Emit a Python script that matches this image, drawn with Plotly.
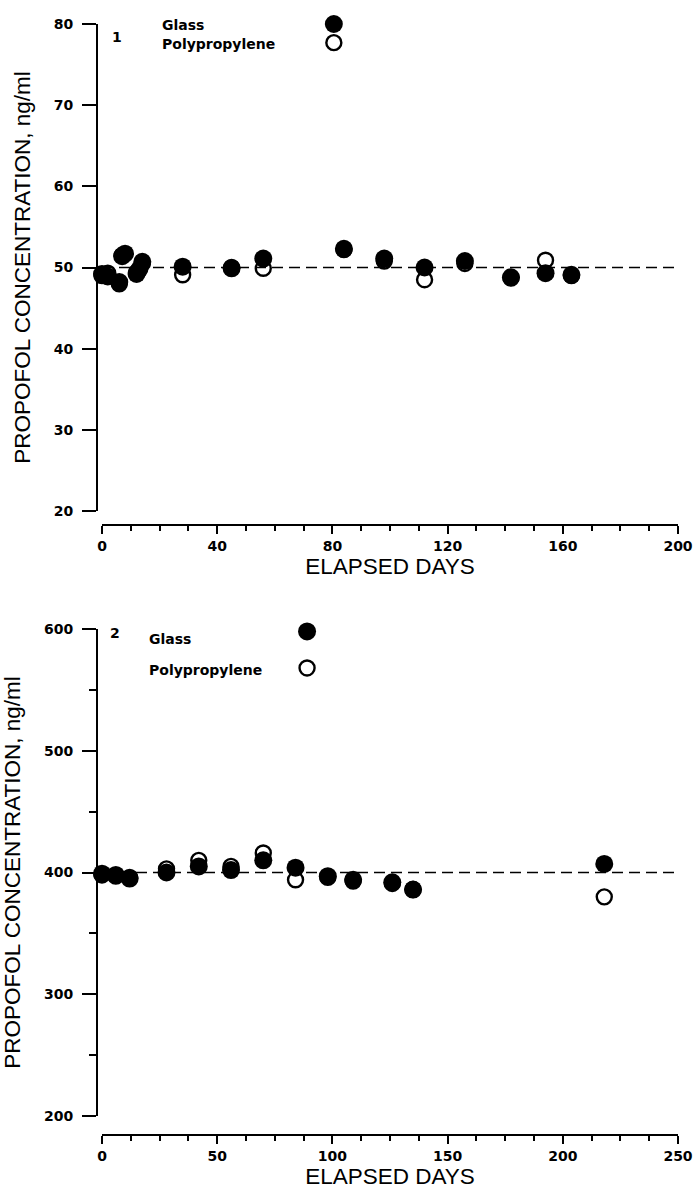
import plotly.graph_objects as go

W, H = 694, 1190

# ---------------- data ----------------
# Panel 1 (nominal 50 ng/ml)
p1_glass_days = [0, 2, 6, 7, 8, 12, 13, 14, 28, 45, 56, 84, 98, 112, 126, 142, 154, 163]
p1_glass_conc = [49.2, 48.9, 48.2, 51.4, 51.7, 49.2, 49.8, 50.7, 50.1, 49.9, 51.1, 52.3, 51.1, 50.0, 50.8, 48.8, 49.3, 49.1]
p1_poly_days = [0, 2, 6, 7, 12, 14, 28, 45, 56, 84, 98, 112, 126, 142, 154, 163]
p1_poly_conc = [49.0, 49.3, 48.0, 51.5, 49.4, 50.5, 49.1, 50.0, 49.9, 52.2, 50.8, 48.5, 50.5, 48.7, 50.9, 49.0]
p1_ref_days = [0, 200]
p1_ref_conc = [50, 50]

# Panel 2 (nominal 400 ng/ml)
p2_glass_days = [0, 6, 12, 28, 42, 56, 70, 84, 98, 109, 126, 135, 218]
p2_glass_conc = [399, 398, 395, 400, 405, 402, 410, 404, 397, 394, 392, 386, 407]
p2_poly_days = [0, 6, 12, 28, 42, 56, 70, 84, 98, 109, 126, 135, 218]
p2_poly_conc = [398, 397, 396, 403, 410, 405, 416, 394, 396, 393, 391, 386, 380]
p2_ref_days = [0, 250]
p2_ref_conc = [400, 400]

# axis ticks
p1_x_ticks = [0, 40, 80, 120, 160, 200]
p1_y_ticks = [20, 30, 40, 50, 60, 70, 80]
p2_x_ticks = [0, 50, 100, 150, 200, 250]
p2_y_ticks = [200, 300, 400, 500, 600]

series_names = ["Glass", "Polypropylene"]
x_title = "ELAPSED DAYS"
y_title = "PROPOFOL CONCENTRATION, ng/ml"

# ---------------- layout helpers ----------------
def fx(p):
    return p / W

def fy(p):
    return 1 - p / H

TICK_FONT = dict(family="DejaVu Sans", size=14, color="black", weight="bold")
TITLE_FONT = dict(family="Liberation Sans", size=22.5, color="black")
LEG_FONT = dict(family="DejaVu Sans", size=14, color="black", weight="bold")

FILLED = dict(symbol="circle", size=18, color="black", line=dict(width=0))
OPEN = dict(symbol="circle-open", size=15, color="black", line=dict(width=2.4, color="black"))

fig = go.Figure()

def add_panel(xa, ya, rd, rc, pd, pc, gd, gc):
    fig.add_trace(go.Scatter(x=rd, y=rc, mode="lines", xaxis=xa, yaxis=ya,
                             line=dict(color="black", width=1.6, dash="11px,6px"),
                             showlegend=False, hoverinfo="skip", cliponaxis=False))
    fig.add_trace(go.Scatter(x=pd, y=pc, mode="markers", xaxis=xa, yaxis=ya,
                             marker=OPEN, name=series_names[1], showlegend=False,
                             cliponaxis=False))
    fig.add_trace(go.Scatter(x=gd, y=gc, mode="markers", xaxis=xa, yaxis=ya,
                             marker=FILLED, name=series_names[0], showlegend=False,
                             cliponaxis=False))

add_panel("x", "y", p1_ref_days, p1_ref_conc, p1_poly_days, p1_poly_conc, p1_glass_days, p1_glass_conc)
add_panel("x2", "y2", p2_ref_days, p2_ref_conc, p2_poly_days, p2_poly_conc, p2_glass_days, p2_glass_conc)

# legend keys (placed inside each panel, in axis units)
LEG1_X, LEG1_Y = [80.5, 80.5], [80.0, 77.7]
LEG2_X, LEG2_Y = [89, 89], [598, 568]
for xa, ya, lx, ly in [("x", "y", LEG1_X, LEG1_Y), ("x2", "y2", LEG2_X, LEG2_Y)]:
    fig.add_trace(go.Scatter(x=[lx[0]], y=[ly[0]], mode="markers", xaxis=xa, yaxis=ya,
                             marker=FILLED, showlegend=False, hoverinfo="skip", cliponaxis=False))
    fig.add_trace(go.Scatter(x=[lx[1]], y=[ly[1]], mode="markers", xaxis=xa, yaxis=ya,
                             marker=OPEN, showlegend=False, hoverinfo="skip", cliponaxis=False))

def xaxis_cfg(rng, ticks, minor, pos):
    return dict(domain=[fx(102), fx(678)], range=rng, anchor="free", position=pos,
                automargin=False,
                showline=True, linecolor="black", linewidth=2,
                ticks="outside", ticklen=8, tickwidth=2, tickcolor="black",
                tickvals=ticks, tickfont=TICK_FONT,
                minor=dict(dtick=minor, tick0=0, ticks="outside", ticklen=5, tickwidth=2, tickcolor="black"),
                showgrid=False, zeroline=False,
                title=dict(text=x_title, font=TITLE_FONT, standoff=0))

def yaxis_cfg(rng, ticks, dom, minor=None):
    d = dict(domain=dom, range=rng, anchor="free", position=fx(97),
             automargin=False,
             showline=True, linecolor="black", linewidth=2,
             ticks="outside", ticklen=14, tickwidth=2, tickcolor="black",
             tickvals=ticks, tickfont=TICK_FONT, ticklabelstandoff=6,
             showgrid=False, zeroline=False,
             title=dict(text=y_title, font=TITLE_FONT, standoff=16))
    if minor:
        d["minor"] = dict(dtick=minor, tick0=0, ticks="outside", ticklen=7, tickwidth=2, tickcolor="black")
    return d

fig.update_layout(
    width=W, height=H,
    margin=dict(l=0, r=0, t=0, b=0),
    paper_bgcolor="white", plot_bgcolor="white",
    xaxis=xaxis_cfg([0, 200], p1_x_ticks, 10, fy(525)),
    yaxis=yaxis_cfg([20, 80], p1_y_ticks, [fy(511), fy(24)]),
    xaxis2=xaxis_cfg([0, 250], p2_x_ticks, 12.5, fy(1135)),
    yaxis2=yaxis_cfg([200, 600], p2_y_ticks, [fy(1116), fy(629)], minor=50),
    showlegend=False,
)

def ann(text, x, y, xanchor="left", font=LEG_FONT):
    fig.add_annotation(text=text, x=fx(x), y=fy(y), xref="paper", yref="paper",
                       xanchor=xanchor, yanchor="middle", showarrow=False, font=font)

ann("1", 117, 37, xanchor="center")
ann(series_names[0], 160, 25)
ann(series_names[1], 160, 44)
ann("2", 115, 633, xanchor="center")
ann(series_names[0], 147, 639)
ann(series_names[1], 147, 670)

fig.write_html("out.html", config={"displayModeBar": False},
               post_script="document.body.style.margin='0px';")
